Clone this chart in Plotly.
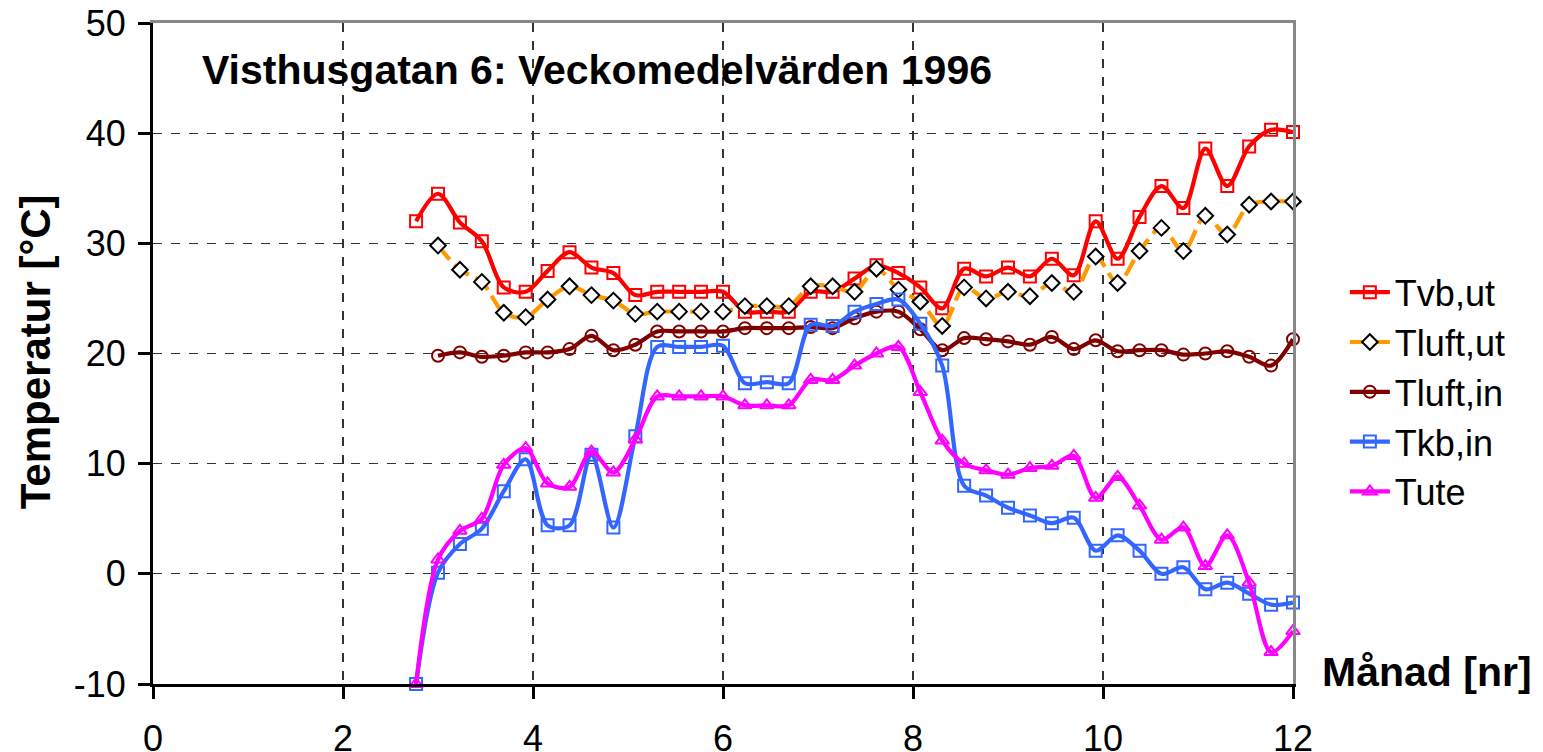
import plotly.graph_objects as go

# Week numbers (weekly means), converted to month number on the x axis
weeks = list(range(12, 53))

tvb_ut = [32.0, 34.5, 31.9, 30.2, 26.0, 25.6, 27.5, 29.2, 27.8, 27.3,
          25.3, 25.6, 25.6, 25.6, 25.6, 23.8, 23.8, 23.8, 25.6, 25.6,
          26.8, 28.0, 27.3, 26.0, 24.1, 27.7, 27.0, 27.8, 27.0, 28.6,
          27.1, 32.0, 28.6, 32.4, 35.2, 33.2, 38.6, 35.2, 38.8, 40.3, 40.1]

tluft_ut = [None, 29.8, 27.6, 26.5, 23.7, 23.3, 24.9, 26.1, 25.3, 24.8,
            23.6, 23.8, 23.8, 23.8, 23.8, 24.3, 24.3, 24.3, 26.1, 26.1,
            25.6, 27.7, 25.8, 24.7, 22.5, 26.0, 25.0, 25.6, 25.2, 26.4,
            25.6, 28.8, 26.4, 29.3, 31.4, 29.3, 32.5, 30.8, 33.5, 33.8, 33.8]

tluft_in = [None, 19.8, 20.1, 19.7, 19.8, 20.1, 20.1, 20.4, 21.6, 20.3,
            20.8, 22.0, 22.0, 22.0, 22.0, 22.3, 22.3, 22.3, 22.4, 22.3,
            23.2, 23.8, 23.8, 22.2, 20.3, 21.4, 21.3, 21.1, 20.8, 21.5,
            20.4, 21.2, 20.2, 20.3, 20.3, 19.9, 20.0, 20.2, 19.7, 18.9, 21.3]

tkb_in = [-10.0, 0.1, 2.7, 4.1, 7.5, 10.4, 4.4, 4.4, 10.8, 4.2,
          12.5, 20.6, 20.6, 20.6, 20.7, 17.3, 17.4, 17.3, 22.6, 22.5,
          23.8, 24.5, 24.9, 22.7, 18.9, 8.0, 7.1, 6.0, 5.3, 4.6,
          5.1, 2.1, 3.5, 2.1, 0.0, 0.6, -1.4, -0.8, -1.8, -2.8, -2.6]

tute = [-10.0, 1.3, 3.9, 5.0, 9.9, 11.4, 8.2, 7.9, 11.1, 9.2,
        12.2, 16.1, 16.1, 16.1, 16.1, 15.3, 15.3, 15.3, 17.6, 17.6,
        18.9, 20.0, 20.6, 16.5, 12.1, 10.0, 9.4, 9.0, 9.6, 9.8,
        10.7, 6.9, 8.8, 6.2, 3.1, 4.2, 0.7, 3.5, -0.8, -7.1, -5.2]

x_ticks = [0, 2, 4, 6, 8, 10, 12]
y_ticks = [-10, 0, 10, 20, 30, 40, 50]

months = [w * 12 / 52 for w in weeks]

FONT = "Liberation Sans, Arial, sans-serif"

series = [
    ("Tvb,ut", tvb_ut, "#FF0000", "solid", dict(symbol="square-open", size=12, color="#FF0000", line=dict(width=2, color="#FF0000"))),
    ("Tluft,ut", tluft_ut, "#FF9900", "18px,7px", dict(symbol="diamond", size=12, color="white", line=dict(width=2, color="black"))),
    ("Tluft,in", tluft_in, "#800000", "solid", dict(symbol="circle-open", size=12, color="#800000", line=dict(width=2, color="#800000"))),
    ("Tkb,in", tkb_in, "#3366FF", "solid", dict(symbol="square-open", size=12, color="#3366FF", line=dict(width=2, color="#3366FF"))),
    ("Tute", tute, "#FF00FF", "solid", dict(symbol="triangle-up-open", size=12, color="#FF00FF", line=dict(width=2, color="#FF00FF"))),
]

fig = go.Figure()
for name, vals, col, dash, mk in series:
    fig.add_trace(go.Scatter(
        x=months, y=vals, name=name, mode="lines+markers",
        line=dict(color=col, width=4.2, dash=dash, shape="spline", smoothing=0.9),
        marker=mk, cliponaxis=False, connectgaps=False,
    ))

# the page body adds an 8px offset; margins compensate for it
fig.update_layout(
    width=1543, height=752,
    margin=dict(l=145, r=258, t=15, b=76, autoexpand=False),
    paper_bgcolor="white", plot_bgcolor="white",
    font=dict(family=FONT, size=36, color="black"),
    showlegend=True,
    legend=dict(x=1.0455, y=0.638, xanchor="left", yanchor="top",
                font=dict(family=FONT, size=36, color="black"),
                bgcolor="rgba(0,0,0,0)", tracegroupgap=0, itemwidth=40),
    # gray frame on top and right side of the plot area
    xaxis2=dict(overlaying="x", side="top", range=[0, 12], showline=True,
                linecolor="#888888", linewidth=2.5, showticklabels=False,
                ticks="", showgrid=False, zeroline=False, automargin=False),
    yaxis2=dict(overlaying="y", side="right", range=[-10, 50], showline=True,
                linecolor="#888888", linewidth=2.5, showticklabels=False,
                ticks="", showgrid=False, zeroline=False, automargin=False),
)

fig.update_xaxes(
    selector=dict(side="bottom"),
    range=[0, 12], tickvals=x_ticks, ticktext=[str(v) for v in x_ticks],
    showline=True, linecolor="black", linewidth=3,
    ticks="outside", ticklen=12, tickwidth=3, tickcolor="black",
    showgrid=True, gridcolor="#333333", gridwidth=1.5, griddash="dash",
    zeroline=False, tickfont=dict(family=FONT, size=36, color="black"),
    ticklabelstandoff=9, automargin=False, ticklabeloverflow="allow",
)
fig.layout.xaxis.update(
    range=[0, 12], tickvals=x_ticks, ticktext=[str(v) for v in x_ticks],
    showline=True, linecolor="black", linewidth=3,
    ticks="outside", ticklen=12, tickwidth=3, tickcolor="black",
    showgrid=True, gridcolor="#333333", gridwidth=1.5, griddash="dash",
    zeroline=False, tickfont=dict(family=FONT, size=36, color="black"),
    ticklabelstandoff=9, automargin=False, ticklabeloverflow="allow",
)
fig.layout.yaxis.update(
    range=[-10, 50], tickvals=y_ticks, ticktext=[str(v) for v in y_ticks],
    showline=True, linecolor="black", linewidth=3,
    ticks="outside", ticklen=12, tickwidth=3, tickcolor="black",
    showgrid=True, gridcolor="#333333", gridwidth=1.2, griddash="dash",
    zeroline=False, tickfont=dict(family=FONT, size=36, color="black"),
    ticklabelstandoff=5, automargin=False, ticklabeloverflow="allow",
)

# invisible helper trace so the frame axes are drawn
fig.add_trace(go.Scatter(x=[None], y=[None], xaxis="x2", yaxis="y2",
                         showlegend=False, hoverinfo="skip"))

fig.add_annotation(text="<b>Visthusgatan 6: Veckomedelvärden 1996</b>",
                   xref="paper", yref="paper", x=0.041, y=0.929,
                   xanchor="left", yanchor="middle", showarrow=False,
                   font=dict(family=FONT, size=41, color="black"))
fig.add_annotation(text="<b>Temperatur [°C]</b>", textangle=-90,
                   xref="paper", yref="paper", x=-0.1035, y=0.502,
                   xanchor="center", yanchor="middle", showarrow=False,
                   font=dict(family=FONT, size=42, color="black"))
fig.add_annotation(text="<b>Månad [nr]</b>",
                   xref="paper", yref="paper", x=1.0237, y=0.018,
                   xanchor="left", yanchor="middle", showarrow=False,
                   font=dict(family=FONT, size=41, color="black"))

fig.write_html("out.html")
